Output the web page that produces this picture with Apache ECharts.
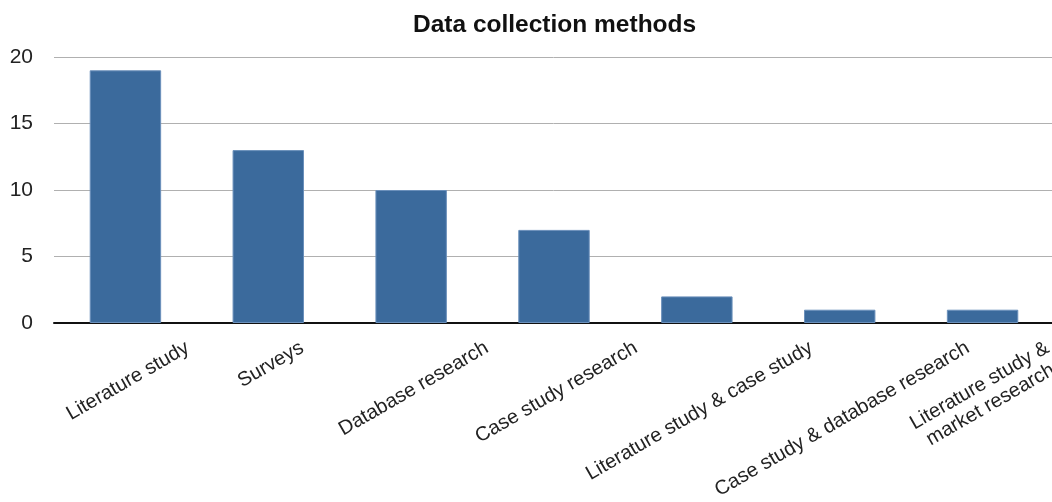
<!DOCTYPE html>
<html>
<head>
<meta charset="utf-8">
<script src="https://cdn.jsdelivr.net/npm/echarts@6/dist/echarts.min.js"></script>
<style>
html,body{margin:0;padding:0;background:#fff;}
#chart{width:1052px;height:502px;}
</style>
</head>
<body>
<div id="chart"></div>
<script>
var titleText = 'Data collection methods';
var categories = ['Literature study', 'Surveys', 'Database research', 'Case study research', 'Literature study & case study', 'Case study & database research', 'Literature study &\nmarket research'];
var counts = [19, 13, 10, 7, 2, 1, 1];
var yTicks = [0, 5, 10, 15, 20];

var FONT = '"Liberation Sans", Arial, Helvetica, sans-serif';
var LABEL_SIZE = 20;
var LINE_H = 22;
var ROT = 30;
var EXTRA_X = -3;

var ctx = document.createElement('canvas').getContext('2d');
ctx.font = LABEL_SIZE + 'px ' + FONT;
function textW(s){
  return Math.max.apply(null, s.split('\n').map(function(l){ return ctx.measureText(l).width; }));
}
var rad = ROT * Math.PI / 180;
// rotated label: its bounding box is centred on the category and its top sits at axis + margin
var xData = categories.map(function(c){
  var w = textW(c);
  var n = c.split('\n').length;
  var ex = EXTRA_X - (n - 1) * LINE_H * Math.sin(rad) / 2;
  var a = -w / 8 + ex * Math.cos(rad);
  var b = (w / 4) * Math.cos(rad) + ex * Math.sin(rad);
  return {
    value: c,
    textStyle: {
      align: 'center',
      verticalAlign: 'top',
      padding: [b, a < 0 ? -2 * a : 0, 0, a > 0 ? 2 * a : 0]
    }
  };
});

var chart = echarts.init(document.getElementById('chart'));
chart.setOption({
  animation: false,
  title: {
    text: titleText,
    left: 408,
    top: 8,
    textStyle: { fontFamily: FONT, fontSize: 24.5, fontWeight: 'bold', color: '#111' }
  },
  grid: { left: 54, top: 57, width: 1000, height: 266, containLabel: false, outerBoundsMode: 'none' },
  xAxis: {
    type: 'category',
    data: xData,
    axisLine: { show: true, lineStyle: { color: '#111', width: 2 } },
    axisTick: { show: false },
    axisLabel: {
      interval: 0,
      rotate: ROT,
      margin: 14,
      fontFamily: FONT,
      fontSize: LABEL_SIZE,
      color: '#222',
      lineHeight: LINE_H,
      hideOverlap: false
    }
  },
  yAxis: {
    type: 'value',
    min: yTicks[0],
    max: yTicks[yTicks.length - 1],
    interval: yTicks[1] - yTicks[0],
    axisLine: { show: false },
    axisTick: { show: false },
    splitLine: { show: true, lineStyle: { color: '#b0b0b0', width: 1 } },
    axisLabel: { margin: 21, fontFamily: FONT, fontSize: 21, color: '#222' }
  },
  series: [{
    type: 'bar',
    data: counts,
    barWidth: '50%',
    itemStyle: { color: '#3b6a9c', borderColor: '#6b90bb', borderWidth: 1 }
  }]
});
</script>
</body>
</html>
